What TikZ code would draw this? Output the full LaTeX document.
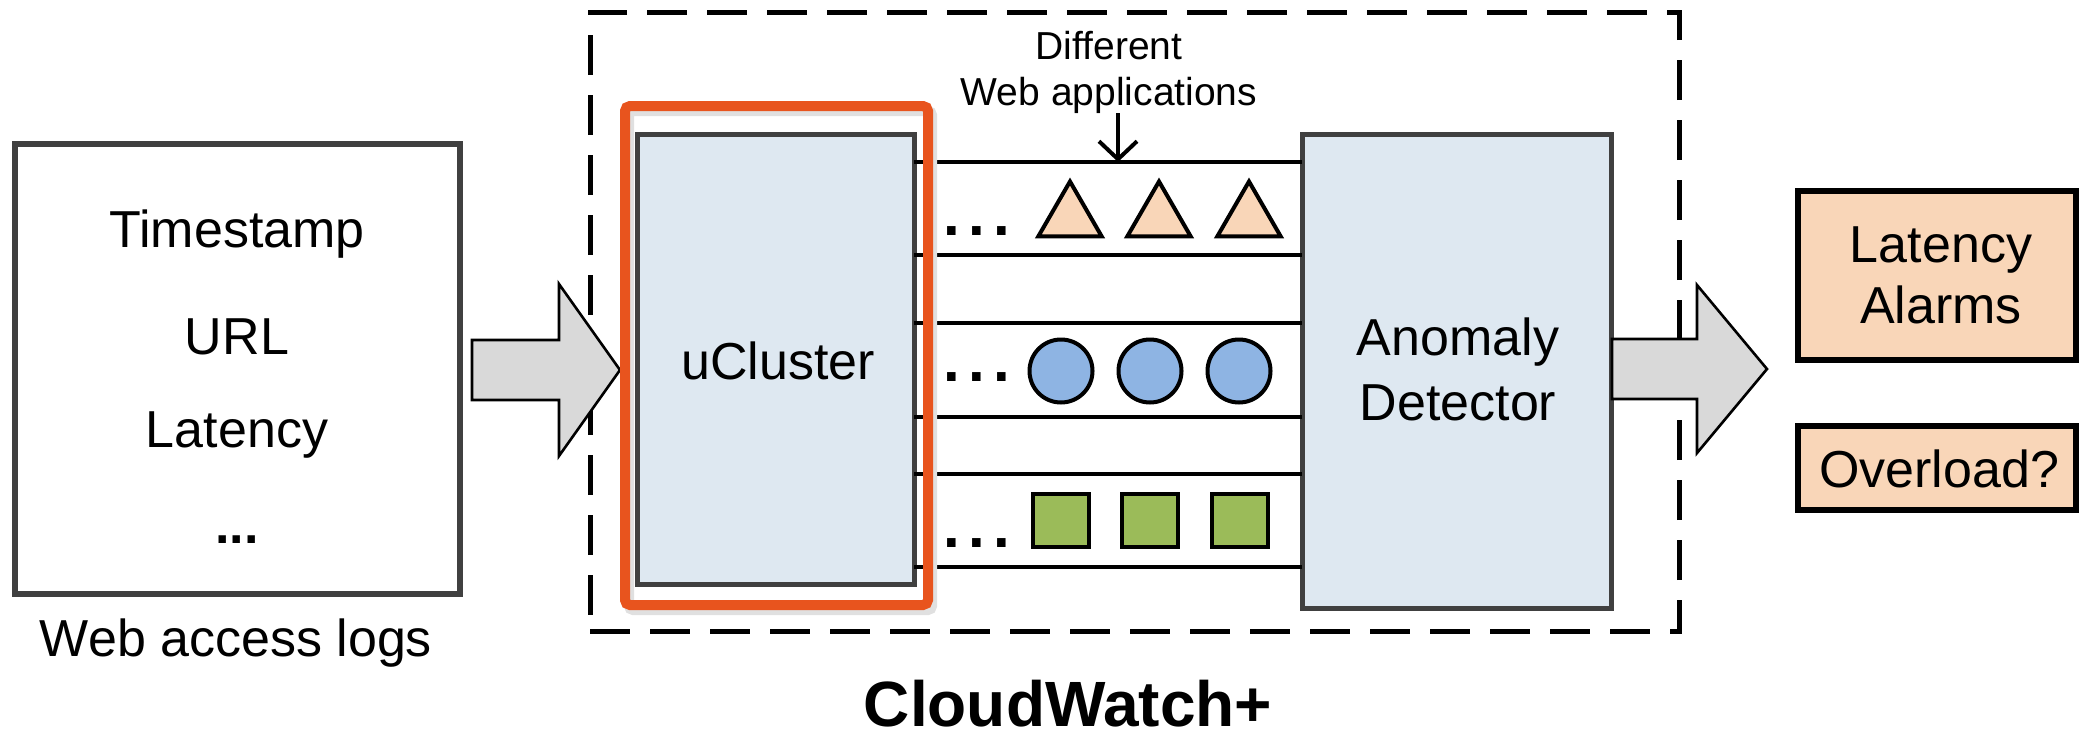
\documentclass[tikz,border=0pt]{standalone}
\usepackage{fontspec}
\setmainfont{Liberation Sans}
\usetikzlibrary{arrows.meta,shapes.geometric}

\definecolor{boxedge}{HTML}{404040}
\definecolor{paleblue}{HTML}{DEE8F1}
\definecolor{hilite}{HTML}{E8541E}
\definecolor{peach}{HTML}{F9D6B8}
\definecolor{dotblue}{HTML}{8EB4E3}
\definecolor{leaf}{HTML}{9BBB59}
\definecolor{arrowgrey}{HTML}{D9D9D9}

\begin{document}
\begin{tikzpicture}[x=0.5pt,y=-0.5pt,
  txt/.style={anchor=base, inner sep=0pt, font=\fontsize{26}{30}\selectfont},
  smalltxt/.style={anchor=base, inner sep=0pt, font=\fontsize{19.5}{23}\selectfont},
  dots/.style={anchor=base, inner sep=0pt, font=\fontsize{30}{34}\selectfont\bfseries},
  module/.style={draw=boxedge, fill=paleblue, line width=2.5pt, inner sep=0pt, outer sep=0pt},
  outbox/.style={draw=black, fill=peach, line width=3pt, inner sep=0pt, outer sep=0pt},
  lane/.style={line width=2.2pt},
  blockarrow/.style={draw=black, fill=arrowgrey, line width=1.3pt, line join=miter},
  token/.style={draw=black, line width=2pt, inner sep=0pt},
  tri/.style={token, fill=peach, regular polygon, regular polygon sides=3, minimum size=36.5pt},
  disc/.style={token, fill=dotblue, circle, minimum size=31.5pt},
  sq/.style={token, fill=leaf, rectangle, minimum width=28pt, minimum height=26.5pt},
]
\useasboundingbox (0,0) rectangle (2079,739);

% system boundary
\node[draw=black, line width=2.5pt, dash pattern=on 20pt off 10pt, inner sep=0pt,
      minimum width=544.5pt, minimum height=309.5pt] (sys) at (1134.5,321.5) {};

% input logs
\node[draw=boxedge, fill=white, line width=3pt, inner sep=0pt,
      minimum width=222.5pt, minimum height=225pt] (logs) at (237.5,369) {};
\node[txt] (ts) at (237,247) {Timestamp};
\node[txt] (url) at (237,354) {URL};
\node[txt] (lat) at (237,447) {Latency};
\node[txt] (more) at (237,543) {\textbf{...}};
\node[txt] (logcap) at (236,656) {Web access logs};

% block arrow into the system
\draw[blockarrow] (472,340) -- (559,340) -- (559,284) -- (620,370) -- (559,456)
                  -- (559,400) -- (472,400) -- cycle;

% modules
\node[module, minimum width=138.5pt, minimum height=225pt] (uc) at (775.5,359) {};
\node[module, minimum width=154.5pt, minimum height=237pt] (ad) at (1456.5,371) {};

% lanes between the modules
\foreach \y in {162,255,323,417,474,567}
  \draw[lane] (uc.east |- 0,\y) -- (ad.west |- 0,\y);
\coordinate (drop) at (1118,162);

% highlight frame around uCluster, with a soft shadow
\draw[black!12, line width=5pt, rounded corners=2pt] (629,111) rectangle (932,610);
\node[draw=hilite, line width=5pt, rounded corners=2.5pt, inner sep=0pt,
      minimum width=151.5pt, minimum height=249.5pt] (focus) at (776.5,355.5) {};

\node[txt] (uclabel) at (778,379) {uCluster};

% per-application streams
\node[dots] (d1) at (977,235) {.\hspace{4.2pt}.\hspace{4.2pt}.};
\node[dots] (d2) at (977,381) {.\hspace{4.2pt}.\hspace{4.2pt}.};
\node[dots] (d3) at (977,547) {.\hspace{4.2pt}.\hspace{4.2pt}.};

\node[tri] (t1) at (1070,218) {};
\node[tri] (t2) at (1159,218) {};
\node[tri] (t3) at (1249,218) {};

\node[disc] (c1) at (1061,371) {};
\node[disc] (c2) at (1150,371) {};
\node[disc] (c3) at (1239,371) {};

\node[sq] (s1) at (1061,520) {};
\node[sq] (s2) at (1150,520) {};
\node[sq] (s3) at (1240,520) {};

% annotation
\node[smalltxt] (diff) at (1109,59) {Different};
\node[smalltxt] (apps) at (1109,105) {Web applications};
\draw[line width=2pt, -{Straight Barb[length=9pt,width=19pt]}] (apps.south -| drop) -- (drop);

% detector label
\node[txt] (ad1) at (1458,355) {Anomaly};
\node[txt] (ad2) at (1458,420) {Detector};

% block arrow out of the system
\draw[blockarrow] (1612,339) -- (1697,339) -- (1697,285) -- (1767,369) -- (1697,453)
                  -- (1697,399) -- (1612,399) -- cycle;

% outputs
\node[outbox, minimum width=139pt, minimum height=84.5pt] (alarms) at (1937,275.5) {};
\node[txt] (al1) at (1941,262) {Latency};
\node[txt] (al2) at (1941,323) {Alarms};
\node[outbox, minimum width=139pt, minimum height=42pt] (over) at (1937,468) {};
\node[txt] (ovl) at (1939,487) {Overload?};

% system name
\node[anchor=base, inner sep=0pt, font=\fontsize{32}{36}\selectfont\bfseries] (title) at (1068,726) {CloudWatch+};
\end{tikzpicture}
\end{document}
